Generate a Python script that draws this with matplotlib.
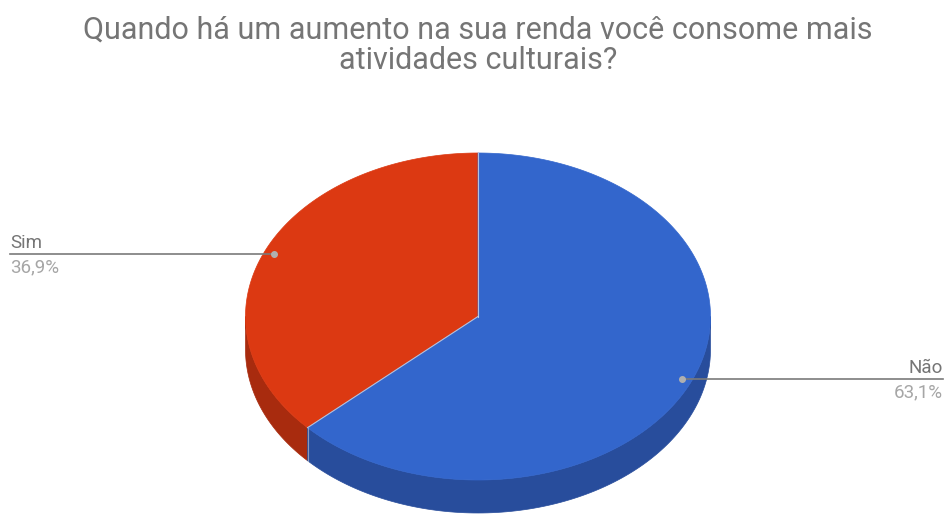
import numpy as np
import matplotlib
matplotlib.use("Agg")
import matplotlib.pyplot as plt
from matplotlib.patches import Polygon

# data
labels = ["Sim", "Não"]
shares = [36.9, 63.1]
pct_labels = ["36,9%", "63,1%"]
top_colors = ["#dc3912", "#3366cc"]
side_colors = ["#a82b0e", "#284d9c"]
title_lines = ["Quando há um aumento na sua renda você consome mais",
               "atividades culturais?"]

W, H = 949, 514
fig = plt.figure(figsize=(W / 100, H / 100), dpi=100)
ax = fig.add_axes([0, 0, 1, 1])
ax.set_xlim(0, W)
ax.set_ylim(H, 0)
ax.axis("off")

# pie geometry (pixels)
cx, cy = 478, 316.5
rx, ry = 232.5, 163.5
depth = 33


def pt(deg, dy=0.0):
    t = np.radians(deg)
    return cx + rx * np.cos(t), cy - ry * np.sin(t) + dy


# slices start at 12 o'clock, Sim goes counter-clockwise, Não clockwise
fracs = np.array(shares) / sum(shares)
start = 90.0
ranges = []
a0 = start
for f in fracs:
    a1 = a0 + f * 360
    ranges.append((a0, a1))
    a0 = a1

# sides (visible for angles in 180..360)
for (a0, a1), col in zip(ranges, side_colors):
    for off in (0, 360, -360):
        lo = max(a0, 180 + off)
        hi = min(a1, 360 + off)
        if hi > lo:
            angs = np.linspace(lo, hi, 120)
            top = [pt(a) for a in angs]
            bot = [pt(a, depth) for a in angs[::-1]]
            ax.add_patch(Polygon(top + bot, closed=True, fc=col, ec=col, lw=0.5, zorder=2))

# top faces
for (a0, a1), col in zip(ranges, top_colors):
    angs = np.linspace(a0, a1, 300)
    verts = [(cx, cy)] + [pt(a) for a in angs]
    ax.add_patch(Polygon(verts, closed=True, fc=col, ec=col, lw=0.5, zorder=3))

# slice boundaries
for a in [ranges[0][0], ranges[0][1]]:
    x, y = pt(a)
    ax.plot([cx, x], [cy, y], color="#e8e8e8", lw=0.8, alpha=0.7, zorder=4)
x, y = pt(ranges[0][1])
ax.plot([x, x], [y, y + depth], color="#cfcfcf", lw=0.8, alpha=0.6, zorder=4)

# labels with leader lines
for lab, pl, (a0, a1) in zip(labels, pct_labels, ranges):
    mid = (a0 + a1) / 2
    t = np.radians(mid)
    dx = cx + rx * 0.957 * np.cos(t)
    dy = cy - ry * 0.957 * np.sin(t)
    if np.cos(t) < 0:
        xe, ha = 10, "left"
    else:
        xe, ha = 943, "right"
    ax.plot([xe, dx], [dy, dy], color="#7a7a7a", lw=1.2, zorder=5)
    ax.plot([dx], [dy], "o", ms=4, color="#b0b0b0", zorder=6)
    ax.text(xe, dy - 6, lab, ha=ha, va="baseline", fontsize=13.5,
            family="Roboto", color="#757575")
    ax.text(xe, dy + 18, pl, ha=ha, va="baseline", fontsize=13.5,
            family="Roboto", color="#a6a6a6")

# title
ax.text(478, 39, title_lines[0], ha="center", va="baseline", fontsize=22,
        family="Roboto", color="#757575")
ax.text(478, 69, title_lines[1], ha="center", va="baseline", fontsize=22,
        family="Roboto", color="#757575")

fig.savefig("out.png", dpi=100)
